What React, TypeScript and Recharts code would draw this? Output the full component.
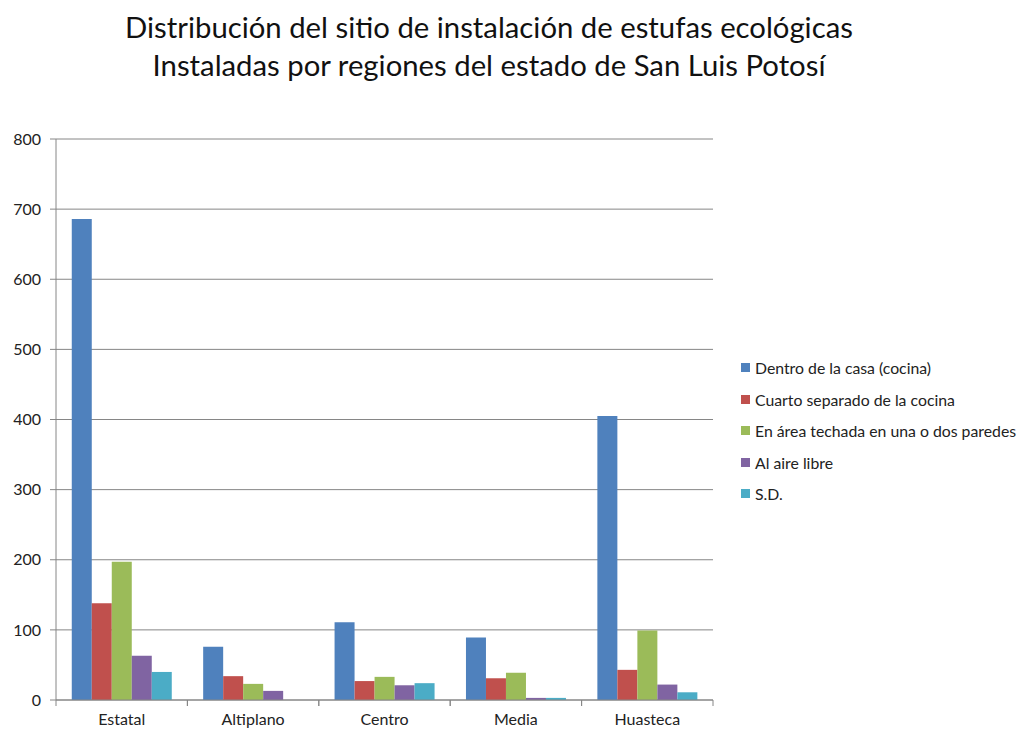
import React from "react";
import { Bar, BarChart, CartesianGrid, XAxis, YAxis } from "recharts";

const regions = ["Estatal", "Altiplano", "Centro", "Media", "Huasteca"];
const dentroCasa = [686, 76, 111, 89, 405];
const cuartoSeparado = [138, 34, 27, 31, 43];
const areaTechada = [197, 23, 33, 39, 99];
const aireLibre = [63, 13, 21, 3, 22];
const sinDato = [40, 0, 24, 3, 11];
const yTicks = [0, 100, 200, 300, 400, 500, 600, 700, 800];

const seriesInfo = [
  { key: "dentro", name: "Dentro de la casa (cocina)", color: "#4F81BD" },
  { key: "cuarto", name: "Cuarto separado de la cocina", color: "#C0504D" },
  { key: "techada", name: "En área techada en una o dos paredes", color: "#9BBB59" },
  { key: "aire", name: "Al aire libre", color: "#8064A2" },
  { key: "sd", name: "S.D.", color: "#4BACC6" },
];

const data = regions.map((r, i) => ({
  region: r,
  dentro: dentroCasa[i],
  cuarto: cuartoSeparado[i],
  techada: areaTechada[i],
  aire: aireLibre[i],
  sd: sinDato[i],
}));

const FONT = "Lato, 'Open Sans', sans-serif";
const PLOT_W = 657;
const half = PLOT_W / regions.length / 2;

// excel style: tick marks sit between categories
const CategoryTick = (props: any) => {
  const { x, y, payload } = props;
  return (
    <g>
      <line x1={x - half} x2={x - half} y1={y - 8} y2={y - 2} stroke="#868686" />
      <line x1={x + half} x2={x + half} y1={y - 8} y2={y - 2} stroke="#868686" />
      <text x={x} y={y + 17} textAnchor="middle" fontSize={16} fill="#222" fontFamily={FONT}>
        {payload.value}
      </text>
    </g>
  );
};

const Legend = () => (
  <div style={{ position: "absolute", left: 733, top: 344, width: 300, whiteSpace: "nowrap" }}>
    {seriesInfo.map((s) => (
      <div key={s.key} style={{ display: "flex", alignItems: "center", height: 31.5 }}>
        <div style={{ width: 9, height: 9, background: s.color, marginRight: 5, flexShrink: 0 }} />
        <span style={{ fontSize: 15.8, color: "#222", fontFamily: FONT }}>{s.name}</span>
      </div>
    ))}
  </div>
);

export default function App() {
  return (
    <div style={{ position: "relative", width: 1012, height: 724, fontFamily: FONT }}>
      <div
        style={{
          position: "absolute",
          left: 0,
          width: 962,
          top: 0,
          textAlign: "center",
          fontSize: 29.3,
          lineHeight: "38px",
          color: "#111",
        }}
      >
        Distribución del sitio de instalación de estufas ecológicas
        <br />
        Instaladas por regiones del estado de San Luis Potosí
      </div>
      <BarChart
        width={1012}
        height={724}
        data={data}
        margin={{ top: 131, right: 307, bottom: 2, left: 0 }}
        barCategoryGap="12%"
        barGap={0}
      >
        <CartesianGrid vertical={false} stroke="#868686" />
        <XAxis
          dataKey="region"
          height={30}
          axisLine={{ stroke: "#868686" }}
          tickLine={false}
          tick={<CategoryTick />}
          interval={0}
        />
        <YAxis
          width={48}
          domain={[0, 800]}
          ticks={yTicks}
          axisLine={{ stroke: "#868686" }}
          tickLine={{ stroke: "#868686" }}
          tickSize={6}
          tickMargin={9}
          tick={{ fontSize: 16, fill: "#222", fontFamily: FONT }}
        />
        {seriesInfo.map((s) => (
          <Bar key={s.key} dataKey={s.key} name={s.name} fill={s.color} isAnimationActive={false} />
        ))}
      </BarChart>
      <Legend />
    </div>
  );
}
